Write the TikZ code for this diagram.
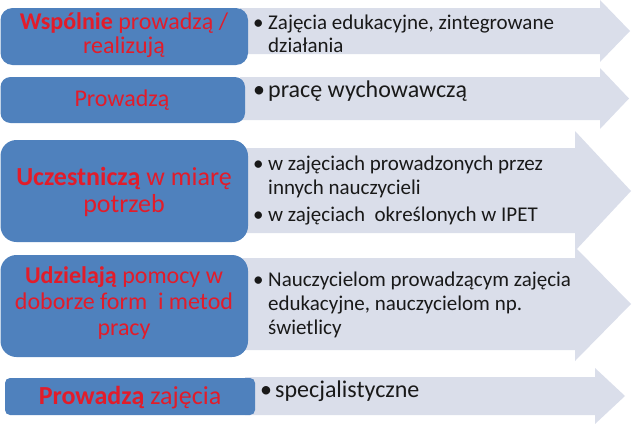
\documentclass[tikz,border=0pt]{standalone}
\usepackage{fontspec}
\setmainfont{Carlito}
\definecolor{boxblue}{RGB}{79,129,189}
\definecolor{arrowgrey}{RGB}{218,222,234}
\definecolor{labred}{RGB}{226,28,42}
\definecolor{itemtxt}{RGB}{25,25,25}
\newcommand{\bul}{\makebox[15pt][l]{•}}
\begin{document}
\begin{tikzpicture}[x=1pt,y=-1pt,
  arrowbg/.style={fill=arrowgrey},
  bluebox/.style={fill=boxblue},
  lbl/.style={text=labred, inner sep=0pt, anchor=base, font=\fontsize{24}{26}\selectfont},
  lblbig/.style={lbl, font=\fontsize{26}{28}\selectfont},
  itm/.style={text=itemtxt, inner sep=0pt, anchor=base west, font=\fontsize{21}{23}\selectfont},
  itmbig/.style={itm, font=\fontsize{24}{26}\selectfont}]
\useasboundingbox (0,0) rectangle (634,423);
% arrows
\fill[arrowbg] (240,8) -- (600,8) -- (600,0) -- (630,31) -- (600,62) -- (600,54) -- (240,54) -- cycle;
\fill[arrowbg] (240,77) -- (600,77) -- (600,68) -- (629,98.5) -- (600,129) -- (600,120) -- (240,120) -- cycle;
\fill[arrowbg] (240,148) -- (575,148) -- (575,131) -- (631,191) -- (575,251) -- (575,233) -- (240,233) -- cycle;
\fill[arrowbg] (240,258) -- (575,258) -- (575,247) -- (631,304) -- (575,361) -- (575,350) -- (240,350) -- cycle;
\fill[arrowbg] (245,377) -- (595,377) -- (595,368) -- (625,396) -- (595,424) -- (595,415) -- (245,415) -- cycle;
% boxes
\fill[bluebox, rounded corners=12pt] (0.5,8) rectangle (248,65);
\fill[bluebox, rounded corners=10pt] (0.5,77) rectangle (245,123);
\fill[bluebox, rounded corners=16pt] (0.5,140) rectangle (248,242);
\fill[bluebox, rounded corners=16pt] (0.5,255) rectangle (248,357);
\fill[bluebox, rounded corners=5pt] (5,378) rectangle (255,415);
% box labels
\node[lbl] (b1a) at (124,29) {\textbf{Wspólnie} prowadzą /};
\node[lbl] (b1b) at (124,53) {realizują};
\node[lbl] (b2) at (122,106) {Prowadzą};
\node[lblbig] (b3a) at (124,185) {\textbf{Uczestniczą} w miarę};
\node[lblbig] (b3b) at (124,212) {potrzeb};
\node[lbl] (b4a) at (124,283) {\textbf{Udzielają} pomocy w};
\node[lbl] (b4b) at (124,309) {doborze form~ i metod};
\node[lbl] (b4c) at (124,335) {pracy};
\node[lblbig] (b5) at (130,404) {\textbf{Prowadzą} zajęcia};
% arrow items
\node[itm] (a1a) at (253,29) {\bul Zajęcia edukacyjne, zintegrowane};
\node[itm] (a1b) at (268,52) {działania};
\node[itmbig] (a2) at (253,97) {\bul pracę wychowawczą};
\node[itm] (a3a) at (253,170) {\bul w zajęciach prowadzonych przez};
\node[itm] (a3b) at (268,194) {innych nauczycieli};
\node[itm] (a3c) at (253,221) {\bul w zajęciach~ określonych w IPET};
\node[itm] (a4a) at (253,286) {\bul Nauczycielom prowadzącym zajęcia};
\node[itm] (a4b) at (268,310) {edukacyjne, nauczycielom np.};
\node[itm] (a4c) at (268,334) {świetlicy};
\node[itmbig] (a5) at (260,397) {\bul specjalistyczne};
\end{tikzpicture}
\end{document}
